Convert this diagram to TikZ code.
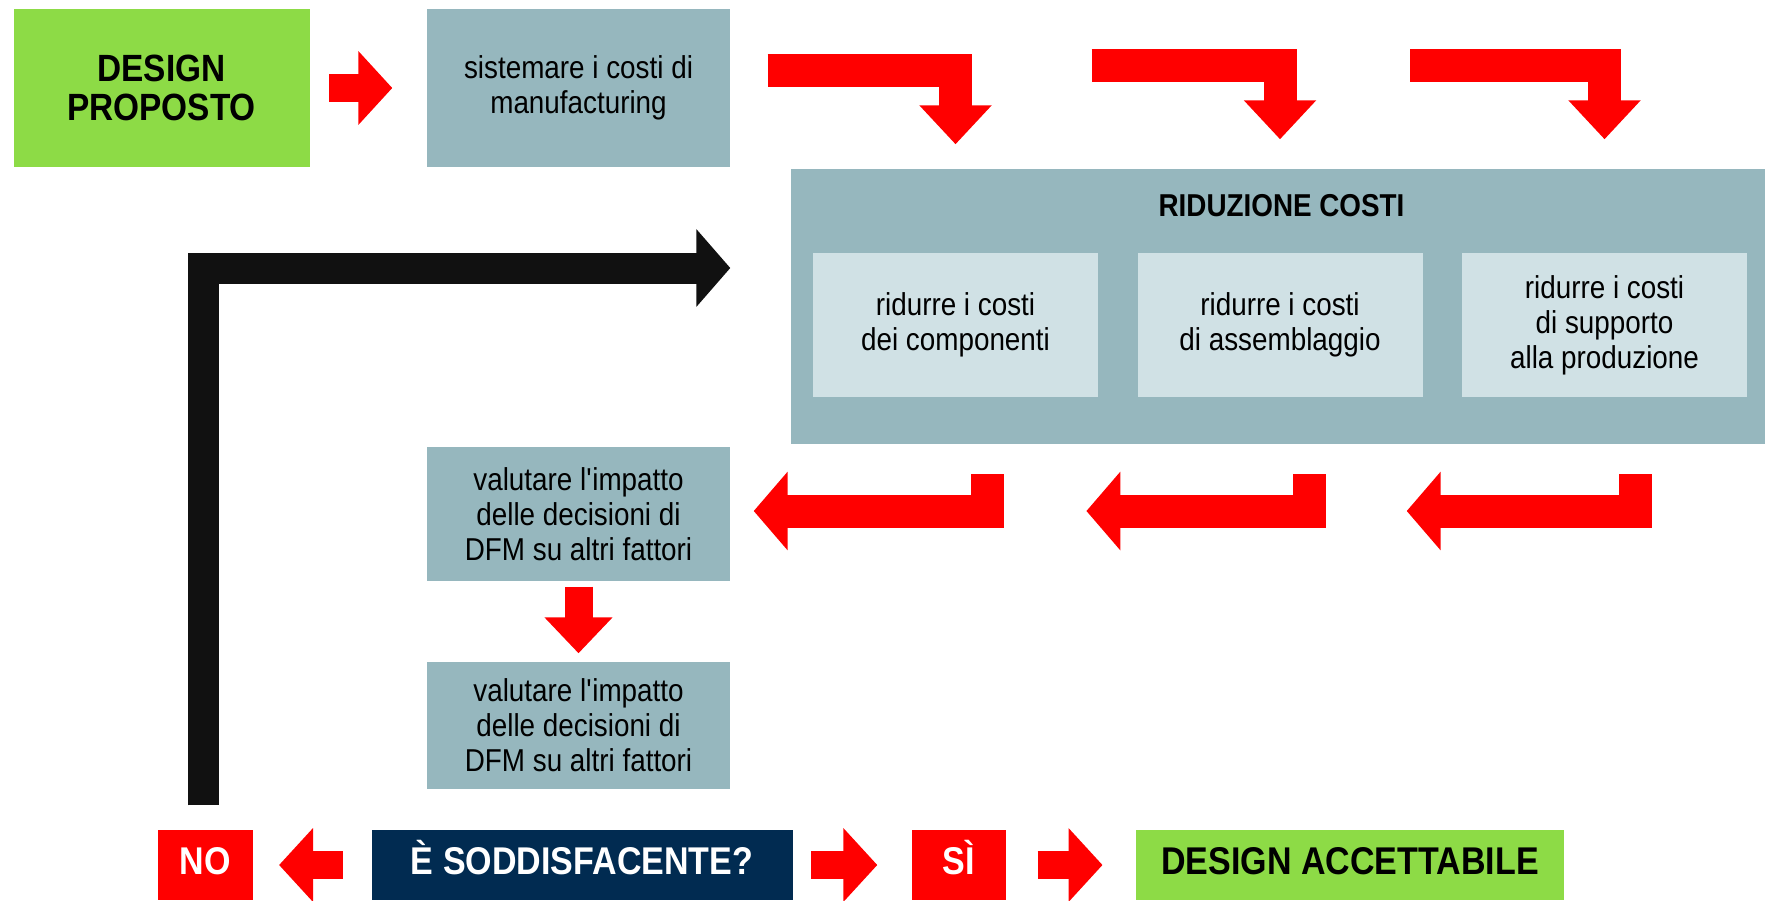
\documentclass[tikz,border=0pt]{standalone}
\usepackage{fontspec}
\setmainfont[FakeStretch = 0.88]{Liberation Sans}
\usepackage{tikz}
\usetikzlibrary{calc, arrows.meta, positioning}

\definecolor{verde}{RGB}{141,219,70}
\definecolor{grigio}{RGB}{150,183,190}
\definecolor{chiaro}{RGB}{208,225,229}
\definecolor{blu}{RGB}{1,43,81}
\definecolor{rosso}{RGB}{255,0,0}
\definecolor{nero}{RGB}{17,17,17}

\tikzset{
    riquadro/.style = {inner sep = 0pt, align = center, font = \fontsize{9}{10}\selectfont},
    grassetto/.style = {font = \bfseries\fontsize{11}{11.2}\selectfont},
    esito/.style = {riquadro, grassetto, minimum height = 0.70cm, text height = 2.8mm, text depth = 1mm},
    frecciarossa/.style = {rosso, line width = 2.8mm, -{Triangle[length = 3.4mm, width = 7.2mm]}},
    frecciagiu/.style = {rosso, line width = 3.3mm, -{Triangle[length = 3.9mm, width = 7mm]}},
    frecciaindietro/.style = {rosso, line width = 3.3mm, -{Triangle[length = 3.4mm, width = 7.7mm]}},
    frecciantera/.style = {nero, line width = 3.1mm, -{Triangle[length = 3.4mm, width = 7.6mm]}}
}

\begin{document}
\begin{tikzpicture}
    \useasboundingbox (0, 0) rectangle (17.65, 9);
    
    \node[riquadro, font = \bfseries\fontsize{10.8}{11.1}\selectfont, fill = verde, minimum width = 2.96cm, minimum height = 1.58cm] (design_proposto) at (1.615, 8.12) {DESIGN\\PROPOSTO};
    \node[riquadro, fill = grigio, minimum width = 3.03cm, minimum height = 1.58cm] (costi_manuf) at (5.785, 8.12) {sistemare i costi di\\manufacturing};
    \draw[frecciarossa, shorten <= 1.9mm, shorten >= 3.4mm] (design_proposto) -- (costi_manuf);
    
    \node[riquadro, fill = grigio, minimum width = 9.74cm, minimum height = 2.75cm] (riduzione) at (12.78, 5.935) {};
    \node[font = \bfseries\fontsize{9}{10}\selectfont, anchor = base] (riduzione_titolo) at (12.815, 6.833) {RIDUZIONE COSTI};
    \node[riquadro, fill = chiaro, minimum width = 2.85cm, minimum height = 1.44cm] (rid_componenti) at (9.555, 5.75) {ridurre i costi\\dei componenti};
    \node[riquadro, fill = chiaro, minimum width = 2.85cm, minimum height = 1.44cm] (rid_assemblaggio) at (12.80, 5.75) {ridurre i costi\\di assemblaggio};
    \node[riquadro, fill = chiaro, minimum width = 2.85cm, minimum height = 1.44cm] (rid_supporto) at (16.045, 5.75) {ridurre i costi\\di supporto\\alla produzione};
    
    \coordinate (su_a1) at (7.676, 8.297);
    \coordinate (su_a2) at (10.916, 8.342);
    \coordinate (su_a3) at (14.10, 8.342);
    \draw[frecciagiu] (su_a1) -| ([yshift = 10.8mm]rid_componenti.north);
    \draw[frecciagiu] (su_a2) -| ([yshift = 11.3mm]rid_assemblaggio.north);
    \draw[frecciagiu] (su_a3) -| ([yshift = 11.3mm]rid_supporto.north);
    
    \node[riquadro, fill = grigio, minimum width = 3.03cm, minimum height = 1.34cm] (valutare_1) at (5.785, 3.86) {valutare l\textquotesingle impatto\\delle decisioni di\\DFM su altri fattori};
    \node[riquadro, fill = grigio, minimum width = 3.03cm, minimum height = 1.27cm] (valutare_2) at (5.785, 1.745) {valutare l\textquotesingle impatto\\delle decisioni di\\DFM su altri fattori};
    \draw[frecciarossa, -{Triangle[length = 3.6mm, width = 6.6mm]}, shorten <= 0.5mm, shorten >= 0.8mm] (valutare_1) -- (valutare_2);
    
    \coordinate (giu_a1) at (9.87, 4.26);
    \coordinate (giu_a2) at (13.09, 4.26);
    \coordinate (giu_b2) at (10.864, 3.89);
    \coordinate (giu_a3) at (16.35, 4.26);
    \coordinate (giu_b3) at (14.067, 3.89);
    \draw[frecciaindietro] (giu_a1) |- ([xshift = 2.3mm, yshift = 0.3mm]valutare_1.east);
    \draw[frecciaindietro] (giu_a2) |- (giu_b2);
    \draw[frecciaindietro] (giu_a3) |- (giu_b3);
    
    \node[esito, fill = rosso, text = white, minimum width = 0.957cm] (no) at (2.055, 0.35) {NO};
    \node[esito, fill = blu, text = white, minimum width = 4.21cm] (soddisfa) at (5.82, 0.35) {È SODDISFACENTE?};
    \node[esito, fill = rosso, text = white, minimum width = 0.94cm] (si) at (9.59, 0.35) {SÌ};
    \node[esito, fill = verde, minimum width = 4.276cm] (accettabile) at (13.50, 0.35) {DESIGN ACCETTABILE};
    \draw[frecciarossa, shorten <= 2.8mm, shorten >= 2.5mm] (soddisfa) -- (no);
    \draw[frecciarossa, shorten <= 1.8mm, shorten >= 3.4mm] (soddisfa) -- (si);
    \draw[frecciarossa, shorten <= 3.1mm, shorten >= 3.3mm] (si) -- (accettabile);
    
    \draw[frecciantera] ([xshift = -0.25mm, yshift = 2.4mm]no.north) |- ([xshift = -6mm, yshift = 3.85mm]riduzione.west);
\end{tikzpicture}
\end{document}
